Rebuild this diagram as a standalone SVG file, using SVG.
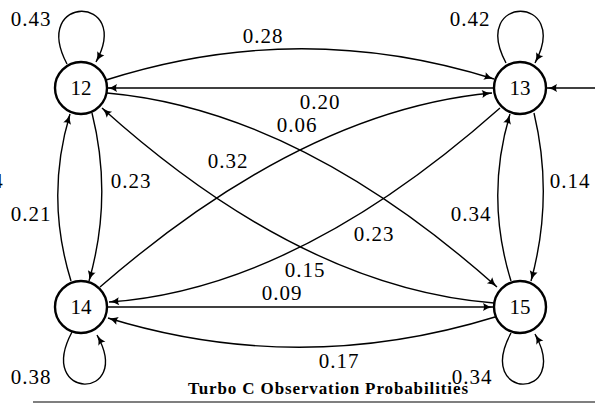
<svg xmlns="http://www.w3.org/2000/svg" width="595" height="403" viewBox="0 0 595 403">
<defs>
<marker id="arr" markerUnits="userSpaceOnUse" markerWidth="12" markerHeight="10" refX="10" refY="4" orient="auto" overflow="visible">
<path d="M0,0 Q4,3 10,4 Q4,5 0,8 Q2,4 0,0 z" fill="#000"/>
</marker>
<style>
.n circle{fill:#fff;stroke:#000;stroke-width:2.4}
.n text{font-family:"Liberation Serif","Times New Roman",serif;font-size:21px;text-anchor:middle;fill:#000}
.e path{fill:none;stroke:#000;stroke-width:1.4;marker-end:url(#arr)}
.lbl{font-family:"Liberation Serif","Times New Roman",serif;font-size:21px;text-anchor:middle;letter-spacing:1px;fill:#000}
.title{font-family:"Liberation Serif","Times New Roman",serif;font-size:17px;font-weight:bold;text-anchor:middle;fill:#000}
</style>
</defs>
<rect width="595" height="403" fill="#fff"/>
<g id="connectors" class="e">
<path d="M106,80 Q300,18 494,79"/>
<path d="M494,88 L107,88"/>
<path d="M107,93 Q298,110 497,287"/>
<path d="M494,303 Q302,288 102,108"/>
<path d="M100,287 Q304,110 492,93"/>
<path d="M500,108 Q296,289 109,302"/>
<path d="M92,113 Q113,197 89,281"/>
<path d="M71,281 Q45,197 70,114"/>
<path d="M534,113 Q554,197 531,281"/>
<path d="M511,281 Q485,197 510,114"/>
<path d="M107,307 L493,307"/>
<path d="M495,317 Q300,377 108,318"/>
<path d="M595,88 L547,88"/>
<path d="M67,64 C30,-6 133,-6 96,62"/>
<path d="M506,63 C469,-6 572,-6 535,63"/>
<path d="M72,332 C35,401 134,401 97,335"/>
<path d="M511,333 C474,401 572,401 535,334"/>
</g>
<g id="node12" class="n"><circle cx="81" cy="88" r="26"/><text x="81" y="95">12</text></g>
<g id="node13" class="n"><circle cx="520" cy="88" r="26"/><text x="520" y="95">13</text></g>
<g id="node14" class="n"><circle cx="81" cy="307" r="26"/><text x="81" y="314">14</text></g>
<g id="node15" class="n"><circle cx="520" cy="307" r="26"/><text x="520" y="314">15</text></g>
<g id="labels">
<text class="lbl" x="31" y="26">0.43</text>
<text class="lbl" x="470" y="26">0.42</text>
<text class="lbl" x="263" y="43">0.28</text>
<text class="lbl" x="320" y="109">0.20</text>
<text class="lbl" x="297" y="132">0.06</text>
<text class="lbl" x="228" y="168">0.32</text>
<text class="lbl" x="374" y="241">0.23</text>
<text class="lbl" x="305" y="277">0.15</text>
<text class="lbl" x="282" y="300">0.09</text>
<text class="lbl" x="339" y="368">0.17</text>
<text class="lbl" x="472" y="384">0.34</text>
<text class="lbl" x="31" y="384">0.38</text>
<text class="lbl" x="131" y="188">0.23</text>
<text class="lbl" x="31" y="221">0.21</text>
<text class="lbl" x="570" y="188">0.14</text>
<text class="lbl" x="471" y="221">0.34</text>
<text class="lbl" x="-2" y="188">4</text>
</g>
<text class="title" x="328" y="394" textLength="280" lengthAdjust="spacing">Turbo C Observation Probabilities</text>
<line x1="33" y1="402" x2="595" y2="402" stroke="#000" stroke-width="1.2"/>
</svg>
